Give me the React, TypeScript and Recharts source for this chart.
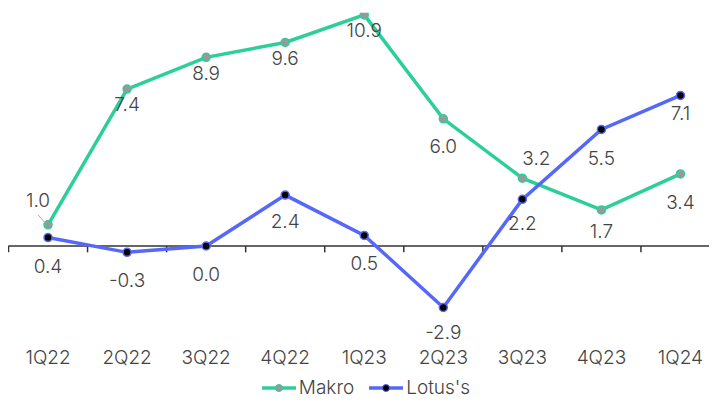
import React from 'react';
import { LineChart, Line, XAxis, YAxis, ReferenceLine } from 'recharts';

const quarters = ['1Q22', '2Q22', '3Q22', '4Q22', '1Q23', '2Q23', '3Q23', '4Q23', '1Q24'];
const makroValues = [1.0, 7.4, 8.9, 9.6, 10.9, 6.0, 3.2, 1.7, 3.4];
const lotusValues = [0.4, -0.3, 0.0, 2.4, 0.5, -2.9, 2.2, 5.5, 7.1];

// label placement tweaks (pixels, relative to each point)
const makroLabelShift: [number, number][] = [[-10, -24], [0, 15], [0, 16], [0, 16], [0, 16], [0, 28], [14, -20], [0, 22], [0, 29]];
const lotusLabelShift: [number, number][] = [[0, 29], [0, 28], [0, 28], [0, 26], [0, 28], [0, 25], [0, 24], [0, 29], [0, 18]];

const data = quarters.map((q, i) => ({ i, q, makro: makroValues[i], lotus: lotusValues[i] }));
const boundaries = Array.from({ length: quarters.length + 1 }, (_, k) => k - 0.5);

const GREEN = '#2ccf97';
const BLUE = '#5668f8';
const TEXT = '#444444';
const FONT = 'Inter, "Noto Sans", sans-serif';
const WEIGHT = 300;
const SIZE = 19;

const makeLabel = (shift: [number, number][], leader: boolean) => (props: any) => {
  const { x, y, value, index } = props;
  const [dx, dy] = shift[index] || [0, 20];
  return (
    <g>
      {leader && index === 0 ? (
        <line x1={x - 10} y1={y - 10} x2={x - 3} y2={y - 2} stroke="#aaaaaa" strokeWidth={1} />
      ) : null}
      <text
        x={x + dx}
        y={y + dy}
        textAnchor="middle"
        dominantBaseline="central"
        fill={TEXT}
        fontSize={SIZE}
        fontWeight={WEIGHT}
        fontFamily={FONT}
      >
        {Number(value).toFixed(1)}
      </text>
    </g>
  );
};

const LegendItem = ({ color, dot, label }: { color: string; dot: string; label: string }) => (
  <div style={{ display: 'flex', alignItems: 'center', marginRight: 14 }}>
    <svg width={36} height={12}>
      <line x1={1} y1={6} x2={35} y2={6} stroke={color} strokeWidth={3.5} />
      <circle cx={18} cy={6} r={3.5} fill={dot} stroke={color} strokeWidth={1} />
    </svg>
    <span style={{ marginLeft: 2, fontSize: SIZE, fontWeight: WEIGHT, color: TEXT, fontFamily: FONT }}>{label}</span>
  </div>
);

export default function App() {
  return (
    <div style={{ margin: '-8px 0 0 -8px', width: 717, height: 402, overflow: 'hidden', position: 'relative', background: '#fff' }}>
      <LineChart
        width={720}
        height={402}
        data={data}
        margin={{ top: 12.8, right: 0, left: 8.5, bottom: 51.8 }}
      >
        <XAxis
          dataKey="i"
          type="number"
          domain={[-0.5, 8.5]}
          ticks={quarters.map((_, i) => i)}
          tickFormatter={(v: number) => quarters[v]}
          axisLine={false}
          tickLine={false}
          interval={0}
          height={30}
          tickMargin={24}
          tick={{ fill: TEXT, fontSize: SIZE, fontWeight: WEIGHT, fontFamily: FONT }}
        />
        <YAxis hide domain={[-3.5, 11]} allowDataOverflow />
        <ReferenceLine y={0} stroke="#333333" strokeWidth={1.5} />
        {boundaries.map((b) => (
          <ReferenceLine
            key={b}
            segment={[{ x: b, y: 0 }, { x: b, y: -0.3 }]}
            stroke="#333333"
            strokeWidth={1.5}
            ifOverflow="visible"
          />
        ))}
        <Line
          dataKey="makro"
          stroke={GREEN}
          strokeWidth={3.5}
          dot={{ r: 4, fill: '#999999', stroke: GREEN, strokeWidth: 1.5 }}
          isAnimationActive={false}
          label={makeLabel(makroLabelShift, true)}
        />
        <Line
          dataKey="lotus"
          stroke={BLUE}
          strokeWidth={3.5}
          dot={{ r: 4, fill: '#000000', stroke: BLUE, strokeWidth: 1.5 }}
          isAnimationActive={false}
          label={makeLabel(lotusLabelShift, false)}
        />
      </LineChart>
      <div style={{ position: 'absolute', top: 376, left: 0, width: 717, display: 'flex', justifyContent: 'center', paddingLeft: 14 }}>
        <LegendItem color={GREEN} dot="#999999" label="Makro" />
        <LegendItem color={BLUE} dot="#000000" label="Lotus's" />
      </div>
    </div>
  );
}
